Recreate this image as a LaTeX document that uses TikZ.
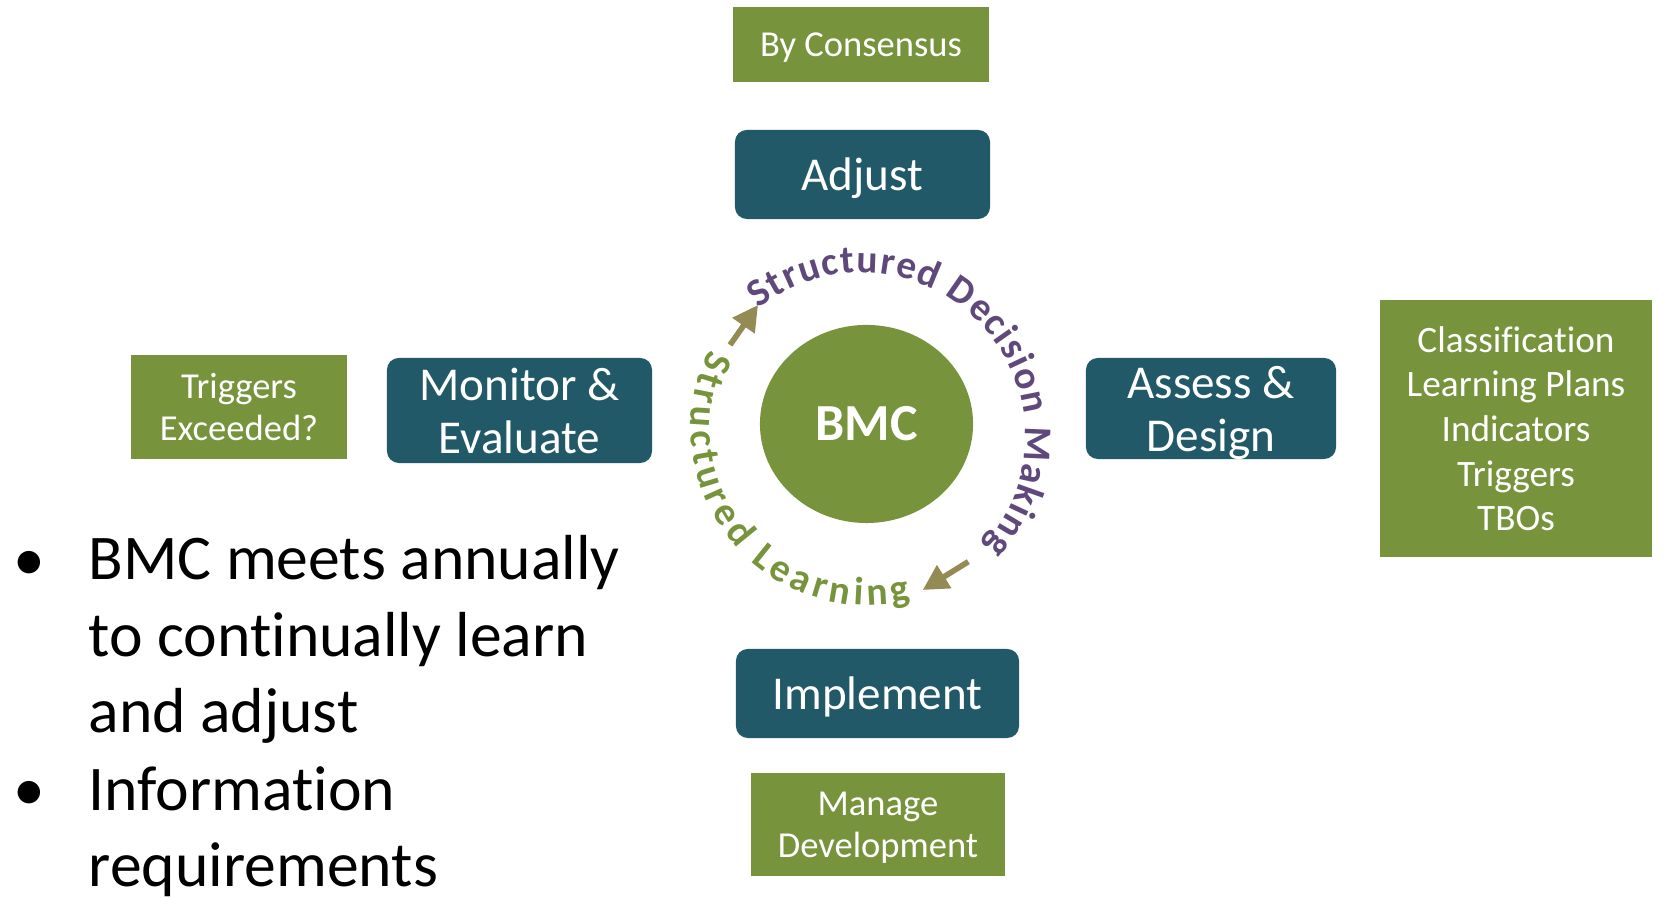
\documentclass[tikz,border=0pt]{standalone}
\usepackage{fontspec}
\setmainfont{Carlito}[Ligatures=NoCommon]
\usepackage{tikz}
\usetikzlibrary{shapes.geometric,decorations.text,arrows.meta}

\definecolor{bmcteal}{RGB}{33,89,104}
\definecolor{bmcgreen}{RGB}{119,147,60}
\definecolor{sdmpurple}{RGB}{95,73,122}
\definecolor{arrowtan}{RGB}{148,138,84}

\begin{document}
\begin{tikzpicture}[x=0.01cm, y=0.01cm,
  stage/.style={fill=bmcteal, rounded corners=3.4pt, text=white, align=center, inner sep=0pt, text depth=0pt, font=\fontsize{13.4}{15.1}\selectfont},
  note/.style={fill=bmcgreen, text=white, align=center, inner sep=0pt, text depth=0pt, font=\fontsize{10.4}{12}\selectfont},
  turn/.style={-{Triangle[length=7.2pt,width=7.4pt]}, line width=1.6pt, arrowtan},
  bullettext/.style={inner sep=0pt, align=left, font=\fontsize{18.1}{21.8}\selectfont}]
\useasboundingbox (0,0) rectangle (1666,898);

% centre
\node[ellipse, fill=bmcgreen, text=white, minimum width=2.13cm, minimum height=1.98cm, inner sep=0pt, font=\fontsize{14.8}{17}\selectfont\bfseries] (bmc) at (866.5,474) {BMC};

% stages of the cycle
\node[stage, minimum width=2.55cm, minimum height=0.89cm] (adjust) at (862.5,723.5) {Adjust};
\node[stage, minimum width=2.65cm, minimum height=1.05cm] (monitor) at (519.5,487.5) {Monitor \&\\Evaluate};
\node[stage, minimum width=2.50cm, minimum height=1.01cm] (assess) at (1211,489.5) {Assess \&\\Design};
\node[stage, minimum width=2.83cm, minimum height=0.89cm] (implement) at (877.5,204.5) {Implement};

% notes next to the stages
\node[note, minimum width=2.56cm, minimum height=0.75cm] (consensus) at (861,853.5) {By Consensus};
\node[note, minimum width=2.16cm, minimum height=1.04cm] (triggers) at (239,491) {Triggers\\Exceeded?};
\node[note, minimum width=2.72cm, minimum height=2.57cm, font=\fontsize{10.6}{12.7}\selectfont] (products) at (1516,469.5) {Classification\\Learning Plans\\Indicators\\Triggers\\TBOs};
\node[note, minimum width=2.54cm, minimum height=1.03cm] (manage) at (878,73.5) {Manage\\Development};

% text round the circle
\coordinate (sdm) at (861.4,461.4);
\coordinate (sl) at (867.8,469.6);
\path[decorate, decoration={text along path, text align={fit to path}, text color=sdmpurple,
  text={|\fontsize{11.2}{13}\selectfont\bfseries|Structured Decision Making}}]
  (sdm) ++(128.8:164) arc[start angle=128.8, end angle=-41.6, radius=164];
\path[decorate, decoration={text along path, text align={fit to path}, text color=bmcgreen,
  text={|\fontsize{11.2}{13}\selectfont\bfseries|Structured Learning}}]
  (sl) ++(153.4:177) arc[start angle=153.4, end angle=284.2, radius=177];

\coordinate (up1) at (730,553);
\coordinate (up2) at (758,593);
\coordinate (down1) at (968.3,336.3);
\coordinate (down2) at (922.7,308);
\draw[turn] (up1) -- (up2);
\draw[turn] (down1) -- (down2);

% bullets
\node[bullettext, anchor=base] (dot1) at (29,317) {•};
\node[bullettext, anchor=base west] (item1) at (88,165) {BMC meets annually\\to continually learn\\and adjust};
\node[bullettext, anchor=base] (dot2) at (29,87) {•};
\node[bullettext, anchor=base west] (item2) at (88,11) {Information\\requirements};
\end{tikzpicture}
\end{document}
